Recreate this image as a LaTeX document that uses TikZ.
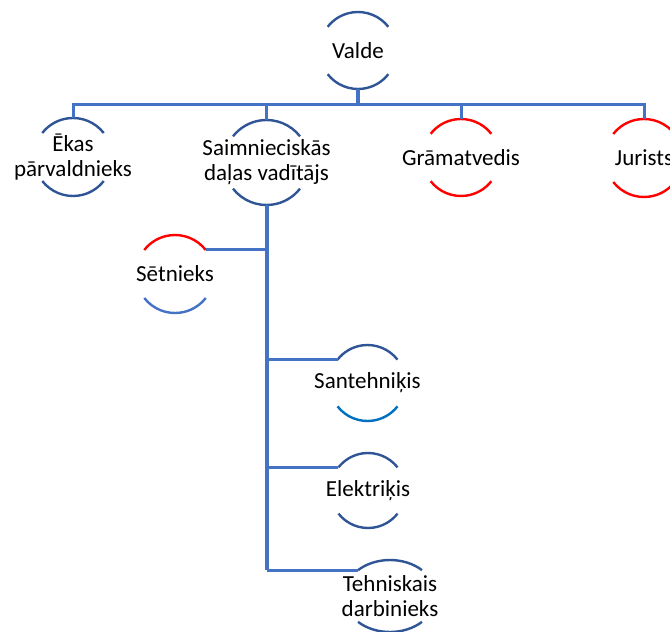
\documentclass[tikz,border=0pt]{standalone}
\usepackage{fontspec}
\setmainfont{Carlito}
\usetikzlibrary{shapes.geometric}

\definecolor{arcblue}{RGB}{47,85,151}
\definecolor{linkblue}{RGB}{68,114,196}
\definecolor{pipeblue}{RGB}{0,112,192}
\definecolor{chartred}{RGB}{255,0,0}

\newcommand{\ctr}[1]{\makebox[0pt]{#1}}
\newcommand{\rims}[4]{%
	\draw[rim, #3] (#1.38) arc[start angle=38, end angle=142, radius=#2];
	\draw[rim, #4] (#1.218) arc[start angle=218, end angle=322, radius=#2];
}

\tikzset{
	member/.style={circle, minimum size=78pt, inner sep=0pt, outer sep=0pt, align=center,
		font={\fontsize{23}{25}\selectfont}},
	rim/.style={line width=2.4pt},
	link/.style={draw=linkblue, line width=3pt},
	trunk/.style={draw=linkblue, line width=4pt},
}

\begin{document}
\begin{tikzpicture}[x=1pt, y=1pt]
	\useasboundingbox (0, 0) rectangle (670, -632);

	\node (valde) at (358, -50.5) [member, minimum size=77pt] {\ctr{Valde}};
	\node (ekas) at (73, -157) [member] {\ctr{Ēkas}\\ \ctr{pārvaldnieks}};
	\node (saim) at (266.5, -162.5) [member, minimum size=85pt] {\ctr{Saimnieciskās}\\ \ctr{daļas vadītājs}};
	\node (gram) at (461, -157.5) [member, minimum size=77pt] {\ctr{Grāmatvedis}};
	\node (jur) at (644, -158) [member] {\ctr{Jurists}};
	\node (set) at (175, -274) [member] {\ctr{Sētnieks}};
	\node (sant) at (367.5, -383) [member, minimum size=76pt] {\ctr{Santehniķis}};
	\node (elek) at (368, -490.5) [member, minimum size=75pt] {\ctr{Elektriķis}};
	\node (tech) at (390, -596) [member, ellipse, minimum width=92pt, minimum height=72pt]
		{\ctr{Tehniskais}\\ \ctr{darbinieks}};

	\rims{valde}{38.5pt}{arcblue}{arcblue}
	\rims{ekas}{39pt}{arcblue}{arcblue}
	\rims{saim}{42.5pt}{arcblue}{arcblue}
	\rims{gram}{38.5pt}{chartred}{chartred}
	\rims{jur}{39pt}{chartred}{chartred}
	\rims{set}{39pt}{chartred}{linkblue}
	\rims{sant}{38pt}{arcblue}{pipeblue}
	\rims{elek}{37.5pt}{arcblue}{arcblue}
	\draw[rim, arcblue] (tech.39) arc[start angle=46, end angle=134, x radius=46pt, y radius=36pt];
	\draw[rim, arcblue] (tech.219) arc[start angle=226, end angle=314, x radius=46pt, y radius=36pt];

	\coordinate (bar) at (358, -104);
	\draw[link] (ekas.north) |- (bar) -| (jur.north);
	\draw[link] (saim.north) -- (saim.north |- bar);
	\draw[link] (gram.north) -- (gram.north |- bar);
	\draw[trunk] (valde.south) -- (bar);

	\draw[trunk] (saim.south) -- (saim.south |- tech.141);
	\draw[link] (set.38) -- (set.38 -| saim.south);
	\draw[link] (sant.142) -- (sant.142 -| saim.south);
	\draw[link] (elek.142) -- (elek.142 -| saim.south);
	\draw[link] (tech.141) -- (tech.141 -| saim.south);
\end{tikzpicture}
\end{document}
